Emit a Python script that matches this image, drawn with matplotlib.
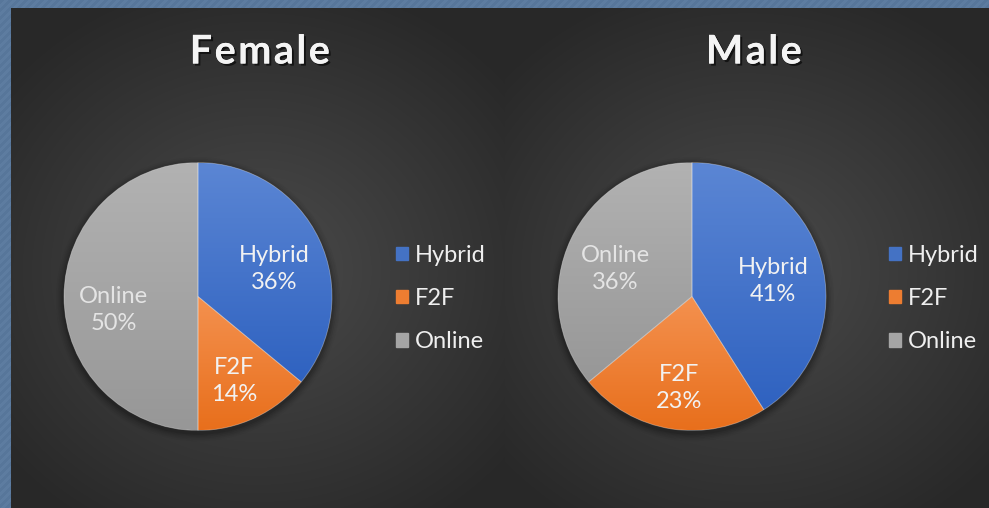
import numpy as np
import matplotlib
matplotlib.use("Agg")
import matplotlib.pyplot as plt
from matplotlib.colors import LinearSegmentedColormap, to_rgb
from matplotlib.patches import Rectangle, Circle
import matplotlib.patheffects as pe

W, H = 989, 508

categories = ["Hybrid", "F2F", "Online"]
female_pct = [36, 14, 50]
male_pct = [41, 23, 36]
titles = ["Female", "Male"]

base_colors = ["#4472c4", "#ed7d31", "#a5a5a5"]
top_colors = ["#5b86d4", "#f4914f", "#b2b2b2"]
bottom_colors = ["#2f62c0", "#e86f1c", "#979797"]

plt.rcParams["font.family"] = ["Lato", "DejaVu Sans"]

fig = plt.figure(figsize=(W / 100, H / 100), dpi=100)

# background: striped blue border + two dark radial-gradient panels
yy, xx = np.mgrid[0:H, 0:W].astype(float)
bg = np.zeros((H, W, 3))
border = np.array(to_rgb("#57769a"))
stripe = (((xx + yy) // 4) % 2)[..., None] * 0.025
bg[:] = border + stripe
centre_c = np.array(to_rgb("#4b4b4b"))
edge_c = np.array(to_rgb("#282828"))
for x0, x1 in [(11, 505), (505, W)]:
    cx = (x0 + x1) / 2
    cy = 270
    d = np.sqrt(((xx - cx) / 330) ** 2 + ((yy - cy) / 300) ** 2)
    d = np.clip(d, 0, 1)[..., None]
    col = centre_c + (edge_c - centre_c) * d
    m = (xx >= x0) & (xx < x1) & (yy >= 8)
    bg[m] = col[m]
bax = fig.add_axes([0, 0, 1, 1])
bax.imshow(bg, extent=(0, W, 0, H), origin="upper", aspect="auto")
bax.set_xlim(0, W)
bax.set_ylim(0, H)
bax.axis("off")

pie_cx = [198, 692]
pie_cy = 296.5
r = 134
legend_x = [396, 889]
title_x = [260, 754]

for k, vals in enumerate([female_pct, male_pct]):
    cx = pie_cx[k]
    ax = fig.add_axes([(cx - r) / W, (H - pie_cy - r) / H, 2 * r / W, 2 * r / H])
    ax.axis("off")

    # soft shadow
    for i, a in enumerate([0.10, 0.08, 0.06, 0.04, 0.03]):
        ax.add_patch(Circle((0.0, -0.02), 1.0 + 0.012 * (i + 1), color="black",
                            alpha=a, lw=0, zorder=0, clip_on=False))

    labels = [f"{c}\n{v}%" for c, v in zip(categories, vals)]
    wedges, texts = ax.pie(vals, labels=labels, colors=base_colors, startangle=90,
                           counterclock=False, radius=1, labeldistance=0.63,
                           wedgeprops=dict(edgecolor=(1, 1, 1, 0.35), linewidth=0.6),
                           textprops=dict(fontsize=17, color="#f2f2f2"))
    for i, w in enumerate(wedges):
        w.set_clip_on(False)
        w.set_facecolor("none")
        w.set_zorder(3)
        ext = w.get_path().get_extents()
        cmap = LinearSegmentedColormap.from_list("g", [bottom_colors[i], top_colors[i]])
        grad = np.linspace(1, 0, 128)[:, None]
        im = ax.imshow(grad, cmap=cmap, extent=(ext.x0, ext.x1, ext.y0, ext.y1),
                       aspect="auto", zorder=2, interpolation="bilinear")
        im.set_clip_path(w)
    for i, t in enumerate(texts):
        tx, ty = t.get_position()
        dy = 0.1 if categories[i] == "Online" and vals[i] >= 50 else 0.06
        t.set_position((tx, ty - dy))
        t.set_ha("center")
        t.set_va("center")
        t.set_linespacing(1.35)
        t.set_zorder(4)
        if categories[i] == "Online":
            t.set_color("#e4e4e4")
    ax.set_xlim(-1, 1)
    ax.set_ylim(-1, 1)
    ax.set_aspect("auto")

    handles = [Rectangle((0, 0), 1, 1, color=c) for c in base_colors]
    fig.legend(handles, categories, loc="center left",
               bbox_to_anchor=(legend_x[k] / W, (H - 298.5) / H),
               frameon=False, fontsize=17, labelcolor="#efefef",
               handlelength=0.5, handleheight=0.5, handletextpad=0.3,
               labelspacing=0.94, borderpad=0, borderaxespad=0)

    spaced = "\u200a".join(titles[k])
    fig.text(title_x[k] / W, (H - 52) / H, spaced, ha="center", va="center",
             fontsize=28.5, fontweight="bold", color="#f4f4f4",
             path_effects=[pe.withSimplePatchShadow(offset=(1.5, -1.5),
                                                    shadow_rgbFace="black", alpha=0.6),
                           pe.Normal()])

fig.savefig("out.png", dpi=100)
